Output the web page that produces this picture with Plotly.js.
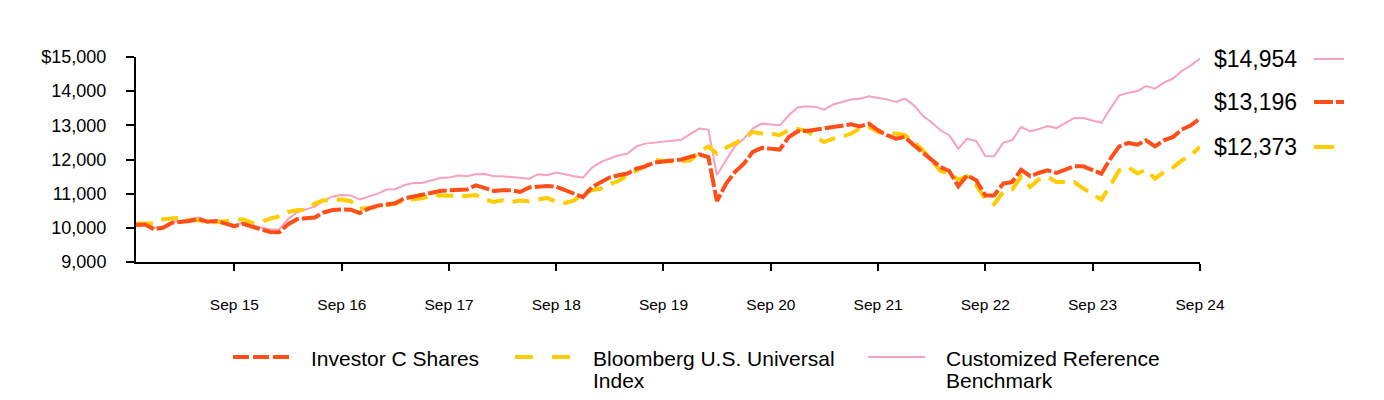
<!DOCTYPE html>
<html>
<head>
<meta charset="utf-8">
<script src="https://cdn.plot.ly/plotly-3.0.1.min.js"></script>
<style>
  html, body { margin: 0; padding: 0; background: #fff; }
  #chart { width: 1384px; height: 400px; }
</style>
</head>
<body>
<div id="chart"></div>
<script>
// ---- Data (month-end values, Oct 2014 .. Sep 2024) ----
const startYear = 2014;
const startMonth = 10; // October
const monthCount = 120;

const investorC = [
  10080, 10100, 9960,
  10000, 10150, 10170, 10200, 10260, 10180, 10200, 10120, 10050, 10120, 10020, 9950,
  9880, 9870, 10100, 10250, 10280, 10300, 10450, 10520, 10540, 10530, 10430, 10560,
  10650, 10700, 10720, 10860, 10900, 10970, 11020, 11080, 11100, 11110, 11120, 11245,
  11150, 11080, 11100, 11100, 11050, 11180, 11200, 11225, 11200, 11100, 11020, 10900,
  11195, 11340, 11470, 11540, 11590, 11730, 11800, 11910, 11950, 11960, 12000, 12075,
  12150, 12070, 10780, 11290, 11630, 11880, 12220, 12340, 12320, 12290, 12660, 12825,
  12835, 12875, 12895, 12935, 12970, 13030, 12970, 13050, 12855, 12710, 12610, 12660,
  12415, 12190, 12025, 11780, 11665, 11215, 11540, 11390, 10950, 10950, 11295, 11340,
  11700, 11510, 11605, 11685, 11605, 11705, 11800, 11800, 11705, 11585, 12025, 12385,
  12485, 12435, 12560, 12385, 12560, 12660, 12875, 13000, 13196
];

const bloomberg = [
  10130, 10140, 10130,
  10250, 10280, 10290, 10220, 10220, 10140, 10170, 10190, 10220, 10250, 10140, 10170,
  10270, 10340, 10465, 10515, 10530, 10710, 10805, 10825, 10830, 10780, 10560, 10580,
  10630, 10660, 10700, 10805, 10835, 10865, 10950, 10950, 10930, 10925, 10930, 10960,
  10825, 10760, 10805, 10755, 10800, 10780, 10825, 10875, 10760, 10730, 10805, 11000,
  11100, 11150, 11275, 11370, 11540, 11685, 11800, 12000, 11955, 11945, 11945, 11975,
  12220, 12385, 12170, 12345, 12465, 12610, 12805, 12760, 12760, 12710, 12875, 12895,
  12835, 12680, 12510, 12610, 12660, 12760, 12905, 12950, 12805, 12760, 12760, 12710,
  12510, 12270, 11975, 11665, 11590, 11410, 11510, 11245, 10855, 10690, 11050, 11120,
  11490, 11195, 11410, 11490, 11340, 11340, 11340, 11150, 11000, 10825, 11245, 11685,
  11780, 11590, 11705, 11440, 11635, 11765, 11975, 12125, 12373
];

const customized = [
  10090, 10110, 10000,
  10030, 10170, 10200, 10260, 10300, 10210, 10220, 10150, 10080, 10150, 10070, 10010,
  9950, 9960, 10250, 10450, 10540, 10620, 10800, 10920, 10960, 10950, 10830, 10905,
  11000, 11120, 11130, 11245, 11310, 11310, 11390, 11460, 11470, 11530, 11510, 11570,
  11575, 11510, 11510, 11490, 11470, 11440, 11570, 11540, 11620, 11560, 11510, 11470,
  11765, 11930, 12025, 12125, 12170, 12385, 12465, 12495, 12525, 12560, 12580, 12740,
  12905, 12875, 11540, 11975, 12385, 12610, 12905, 13050, 13030, 13000, 13295, 13520,
  13560, 13540, 13460, 13610, 13685, 13755, 13780, 13850, 13800, 13760, 13685, 13780,
  13585, 13275, 13100, 12855, 12710, 12320, 12610, 12540, 12100, 12095, 12495, 12560,
  12950, 12825, 12885, 12980, 12920, 13080, 13215, 13215, 13145, 13070, 13490, 13880,
  13950, 14005, 14150, 14075, 14250, 14370, 14590, 14755, 14954
];

const seriesNames = ["Investor C Shares", "Bloomberg U.S. Universal Index", "Customized Reference Benchmark"];
const endLabels = ["$14,954", "$13,196", "$12,373"];

const xTickDates = ["2015-09-01","2016-09-01","2017-09-01","2018-09-01","2019-09-01",
                    "2020-09-01","2021-09-01","2022-09-01","2023-09-01","2024-09-01"];
const xTickLabels = ["Sep 15","Sep 16","Sep 17","Sep 18","Sep 19","Sep 20","Sep 21","Sep 22","Sep 23","Sep 24"];
const yTickVals = [9000, 10000, 11000, 12000, 13000, 14000, 15000];
const yTickLabels = ["9,000", "10,000", "11,000", "12,000", "13,000", "14,000", "$15,000"];

// month dates
const months = [];
for (let i = 0; i < monthCount; i++) {
  const m = startMonth - 1 + i;
  const y = startYear + Math.floor(m / 12);
  const mm = (m % 12) + 1;
  months.push(y + "-" + String(mm).padStart(2, "0") + "-01");
}

const ORANGE = "#FF4E17";
const YELLOW = "#FFCC00";
const PINK = "#F6A2BA";
const FONT = "Liberation Sans, Arial, sans-serif";

const traces = [
  { x: months, y: customized, name: seriesNames[2], type: "scatter", mode: "lines",
    line: { color: PINK, width: 2 }, hoverinfo: "skip" },
  { x: months, y: bloomberg, name: seriesNames[1], type: "scatter", mode: "lines",
    line: { color: YELLOW, width: 4, dash: "17px,9px" }, hoverinfo: "skip" },
  { x: months, y: investorC, name: seriesNames[0], type: "scatter", mode: "lines",
    line: { color: ORANGE, width: 4, dash: "19px,3px" }, hoverinfo: "skip" }
];

// helpers for paper coords from pixel positions
const L = 136, R = 184, T = 57, B = 138, W = 1384, H = 400;
const pw = W - L - R, ph = H - T - B;
const px = v => (v - L) / pw;
const py = v => (H - B - v) / ph;

const shapes = [];
const annotations = [];

// right-side end labels with line samples
const endY = [59, 102, 147];
const endStyles = [
  { color: PINK, width: 2, dash: "solid" },
  { color: ORANGE, width: 4, dash: "19px,3px" },
  { color: YELLOW, width: 4, dash: "20px,20px" }
];
for (let i = 0; i < 3; i++) {
  annotations.push({ xref: "paper", yref: "paper", x: px(1212), y: py(endY[i]),
    xanchor: "left", yanchor: "middle", showarrow: false, text: endLabels[i],
    font: { family: FONT, size: 23, color: "#000" } });
  shapes.push({ type: "line", xref: "paper", yref: "paper",
    x0: px(1314), x1: px(1344), y0: py(endY[i]), y1: py(endY[i]),
    line: endStyles[i] });
}

// bottom legend (manual)
const legY = 357;
const legItems = [
  { x0: 233, x1: 290, tx: 309, lines: ["Investor C Shares"], style: { color: ORANGE, width: 4, dash: "16px,4px" } },
  { x0: 515, x1: 570, tx: 591, lines: ["Bloomberg U.S. Universal", "Index"], style: { color: YELLOW, width: 4, dash: "18px,19px" } },
  { x0: 868, x1: 925, tx: 944, lines: ["Customized Reference", "Benchmark"], style: { color: PINK, width: 2, dash: "solid" } }
];
legItems.forEach(it => {
  shapes.push({ type: "line", xref: "paper", yref: "paper",
    x0: px(it.x0), x1: px(it.x1), y0: py(legY), y1: py(legY), line: it.style });
  it.lines.forEach((t, j) => {
    annotations.push({ xref: "paper", yref: "paper", x: px(it.tx), y: py(legY + 1 + j * 22),
      xanchor: "left", yanchor: "middle", showarrow: false, text: t,
      font: { family: FONT, size: 21, color: "#000" } });
  });
});

const layout = {
  width: W, height: H,
  margin: { l: L, r: R, t: T, b: B, pad: 0 },
  paper_bgcolor: "#fff", plot_bgcolor: "#fff",
  showlegend: false,
  font: { family: FONT, color: "#000" },
  xaxis: {
    type: "date",
    range: [months[0], months[months.length - 1]],
    tickvals: xTickDates, ticktext: xTickLabels,
    ticks: "outside", ticklen: 7, tickwidth: 2, tickcolor: "#000",
    showline: true, linecolor: "#000", linewidth: 2,
    showgrid: false, zeroline: false,
    tickfont: { family: FONT, size: 15.5, color: "#000" },
    ticklabelstandoff: 20
  },
  yaxis: {
    range: [9000, 15000],
    tickvals: yTickVals, ticktext: yTickLabels,
    ticks: "outside", ticklen: 8, tickwidth: 2, tickcolor: "#000",
    showline: true, linecolor: "#000", linewidth: 2,
    showgrid: false, zeroline: false,
    tickfont: { family: FONT, size: 18, color: "#000" },
    ticklabelstandoff: 16
  },
  shapes: shapes,
  annotations: annotations
};

Plotly.newPlot("chart", traces, layout, { displayModeBar: false, staticPlot: true });
</script>
</body>
</html>
